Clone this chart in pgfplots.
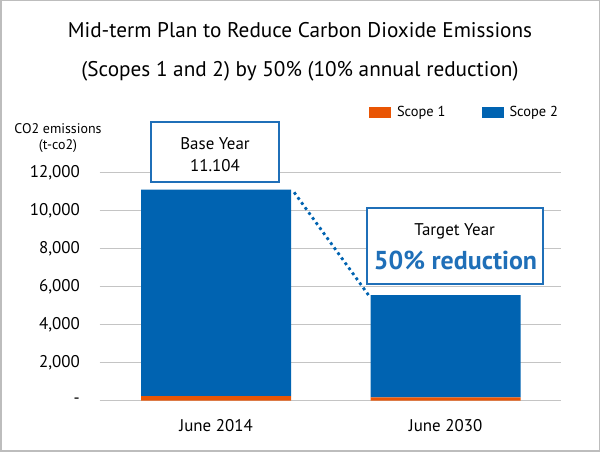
\documentclass[border=0pt]{standalone}
\usepackage{fontspec}
\setmainfont{PT Sans}
\usepackage{pgfplots}
\pgfplotsset{compat=1.18}
\definecolor{sBlue}{HTML}{0063B1}
\definecolor{sOrange}{HTML}{E95504}
\definecolor{bBlue}{HTML}{1F6FB8}
\definecolor{gridG}{HTML}{C4C4C4}
\definecolor{frameG}{HTML}{BDBDBD}
\begin{document}
\begin{tikzpicture}[x=1bp,y=1bp]
\useasboundingbox (0,0) rectangle (600,452);
\draw[frameG, line width=1.5bp] (0.75,0.75) rectangle (599.25,451.25);
\node[anchor=base, inner sep=0pt, font=\fontsize{21.3}{25}\selectfont] at (300,414) {Mid-term Plan to Reduce Carbon Dioxide Emissions};
\node[anchor=base, inner sep=0pt, font=\fontsize{21.3}{25}\selectfont] at (300,375) {(Scopes 1 and 2) by 50\% (10\% annual reduction)};
\node[anchor=base, inner sep=0pt, font=\fontsize{14}{16}\selectfont] at (58,318) {CO2 emissions};
\node[anchor=base, inner sep=0pt, font=\fontsize{14}{16}\selectfont] at (58,302) {(t-co2)};
\begin{axis}[
  at={(99.5bp,51.3bp)}, anchor=south west, scale only axis,
  width=461.5bp, height=228bp,
  ymin=0, ymax=12000, xmin=-0.508, xmax=1.503,
  ybar stacked, bar width=0.654,
  clip=false, scaled y ticks=false,
  axis line style={draw=none}, tick style={draw=none}, major tick length=0pt,
  ymajorgrids, grid style={gridG, line width=1.2bp},
  ytick={0,2000,4000,6000,8000,10000,12000},
  yticklabels={-,{2,000},{4,000},{6,000},{8,000},{10,000},{12,000}},
  xtick={0,1}, xticklabels={June 2014, June 2030},
  yticklabel style={font=\fontsize{17}{20}\selectfont, anchor=east, inner sep=0pt, xshift=-19.5bp},
  xticklabel style={font=\fontsize{17}{20}\selectfont, anchor=base, inner sep=0pt, yshift=-31.3bp},
  legend columns=2,
  legend style={at={(axis description cs:0.584,1.264)}, anchor=west, draw=none, fill=none,
    inner sep=0pt, outer sep=0pt, font=\fontsize{14.5}{17}\selectfont,
    nodes={inner sep=0pt},
    /tikz/every odd column/.append style={column sep=6bp},
    /tikz/every even column/.append style={column sep=36bp}},
  every axis plot post/.append style={/pgfplots/legend image code/.code={\fill[##1] (0bp,-5.5bp) rectangle (22bp,5.5bp);}},
]
\addplot[fill=sOrange, draw=none] coordinates {(0,240) (1,180)};
\addplot[fill=sBlue, draw=none] coordinates {(0,10864) (1,5372)};
\legend{Scope 1, Scope 2}
\draw[sBlue, line width=2.8bp, dash pattern=on 2.8bp off 3.4bp] (axis cs:0.34,10968) -- (axis cs:0.664,5563);
\end{axis}
\draw[bBlue, line width=2bp, fill=white] (151,330) rectangle (279,270);
\node[anchor=base, inner sep=0pt, font=\fontsize{17}{20}\selectfont] at (215,302.7) {Base Year};
\node[anchor=base, inner sep=0pt, font=\fontsize{17}{20}\selectfont] at (215,280.3) {11.104};
\draw[bBlue, line width=2bp, fill=white] (366.7,243.7) rectangle (542.7,167.7);
\node[anchor=base, inner sep=0pt, font=\fontsize{17}{20}\selectfont] at (454.7,216) {Target Year};
\node[anchor=base, inner sep=0pt, font=\bfseries\fontsize{26}{30}\selectfont, text=bBlue] at (455.5,182) {50\% reduction};
\end{tikzpicture}
\end{document}
